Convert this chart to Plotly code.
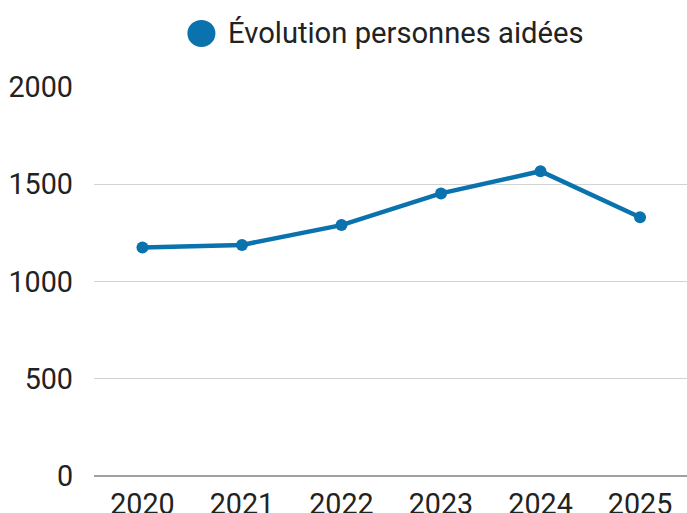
import plotly.graph_objects as go

years = ["2020", "2021", "2022", "2023", "2024", "2025"]
persons = [1175, 1188, 1290, 1453, 1567, 1330]
series_name = "Évolution personnes aidées"
y_ticks = [0, 500, 1000, 1500, 2000]

color = "#0a72ad"
W, H = 687, 513
ml, mr, mt, mb = 93.5, 0, 86.7, 36.5

fig = go.Figure()
fig.add_trace(go.Scatter(
    x=years, y=persons, mode="lines+markers", name=series_name,
    line=dict(color=color, width=4.5),
    marker=dict(color=color, size=12),
    showlegend=False,
))

# legend drawn as circle + text
leg_y = 1 + (mt - 33) / (H - mt - mb)
fig.add_shape(type="circle", xref="paper", yref="paper",
              xsizemode="pixel", ysizemode="pixel",
              xanchor=(201 - ml) / (W - ml - mr), yanchor=leg_y,
              x0=-14, x1=14, y0=-13.5, y1=13.5,
              fillcolor=color, line=dict(width=0))
fig.add_annotation(text=series_name, xref="paper", yref="paper",
                   x=(226 - ml) / (W - ml - mr), y=leg_y,
                   xanchor="left", yanchor="middle", showarrow=False,
                   font=dict(family="Roboto", size=29.2, color="#222222"))

fig.update_layout(
    width=W, height=H,
    margin=dict(l=ml, r=mr, t=mt, b=mb, autoexpand=False),
    paper_bgcolor="white", plot_bgcolor="white",
    font=dict(family="Roboto", size=28.7, color="#222222"),
    xaxis=dict(type="category", range=[-0.487, 5.472], showgrid=False, zeroline=False,
               showline=False, ticks="", ticklabelstandoff=8, automargin=False),
    yaxis=dict(range=[0, 2000], tickvals=y_ticks, gridcolor="#d3d3d3", gridwidth=1,
               zeroline=True, zerolinecolor="#a0a0a0", zerolinewidth=1.5,
               showline=False, ticks="", ticklabelstandoff=20, automargin=False),
    showlegend=False,
)

fig.write_html("out.html", config={"displayModeBar": False},
               post_script="document.body.style.margin='0';document.body.style.overflow='hidden';")
